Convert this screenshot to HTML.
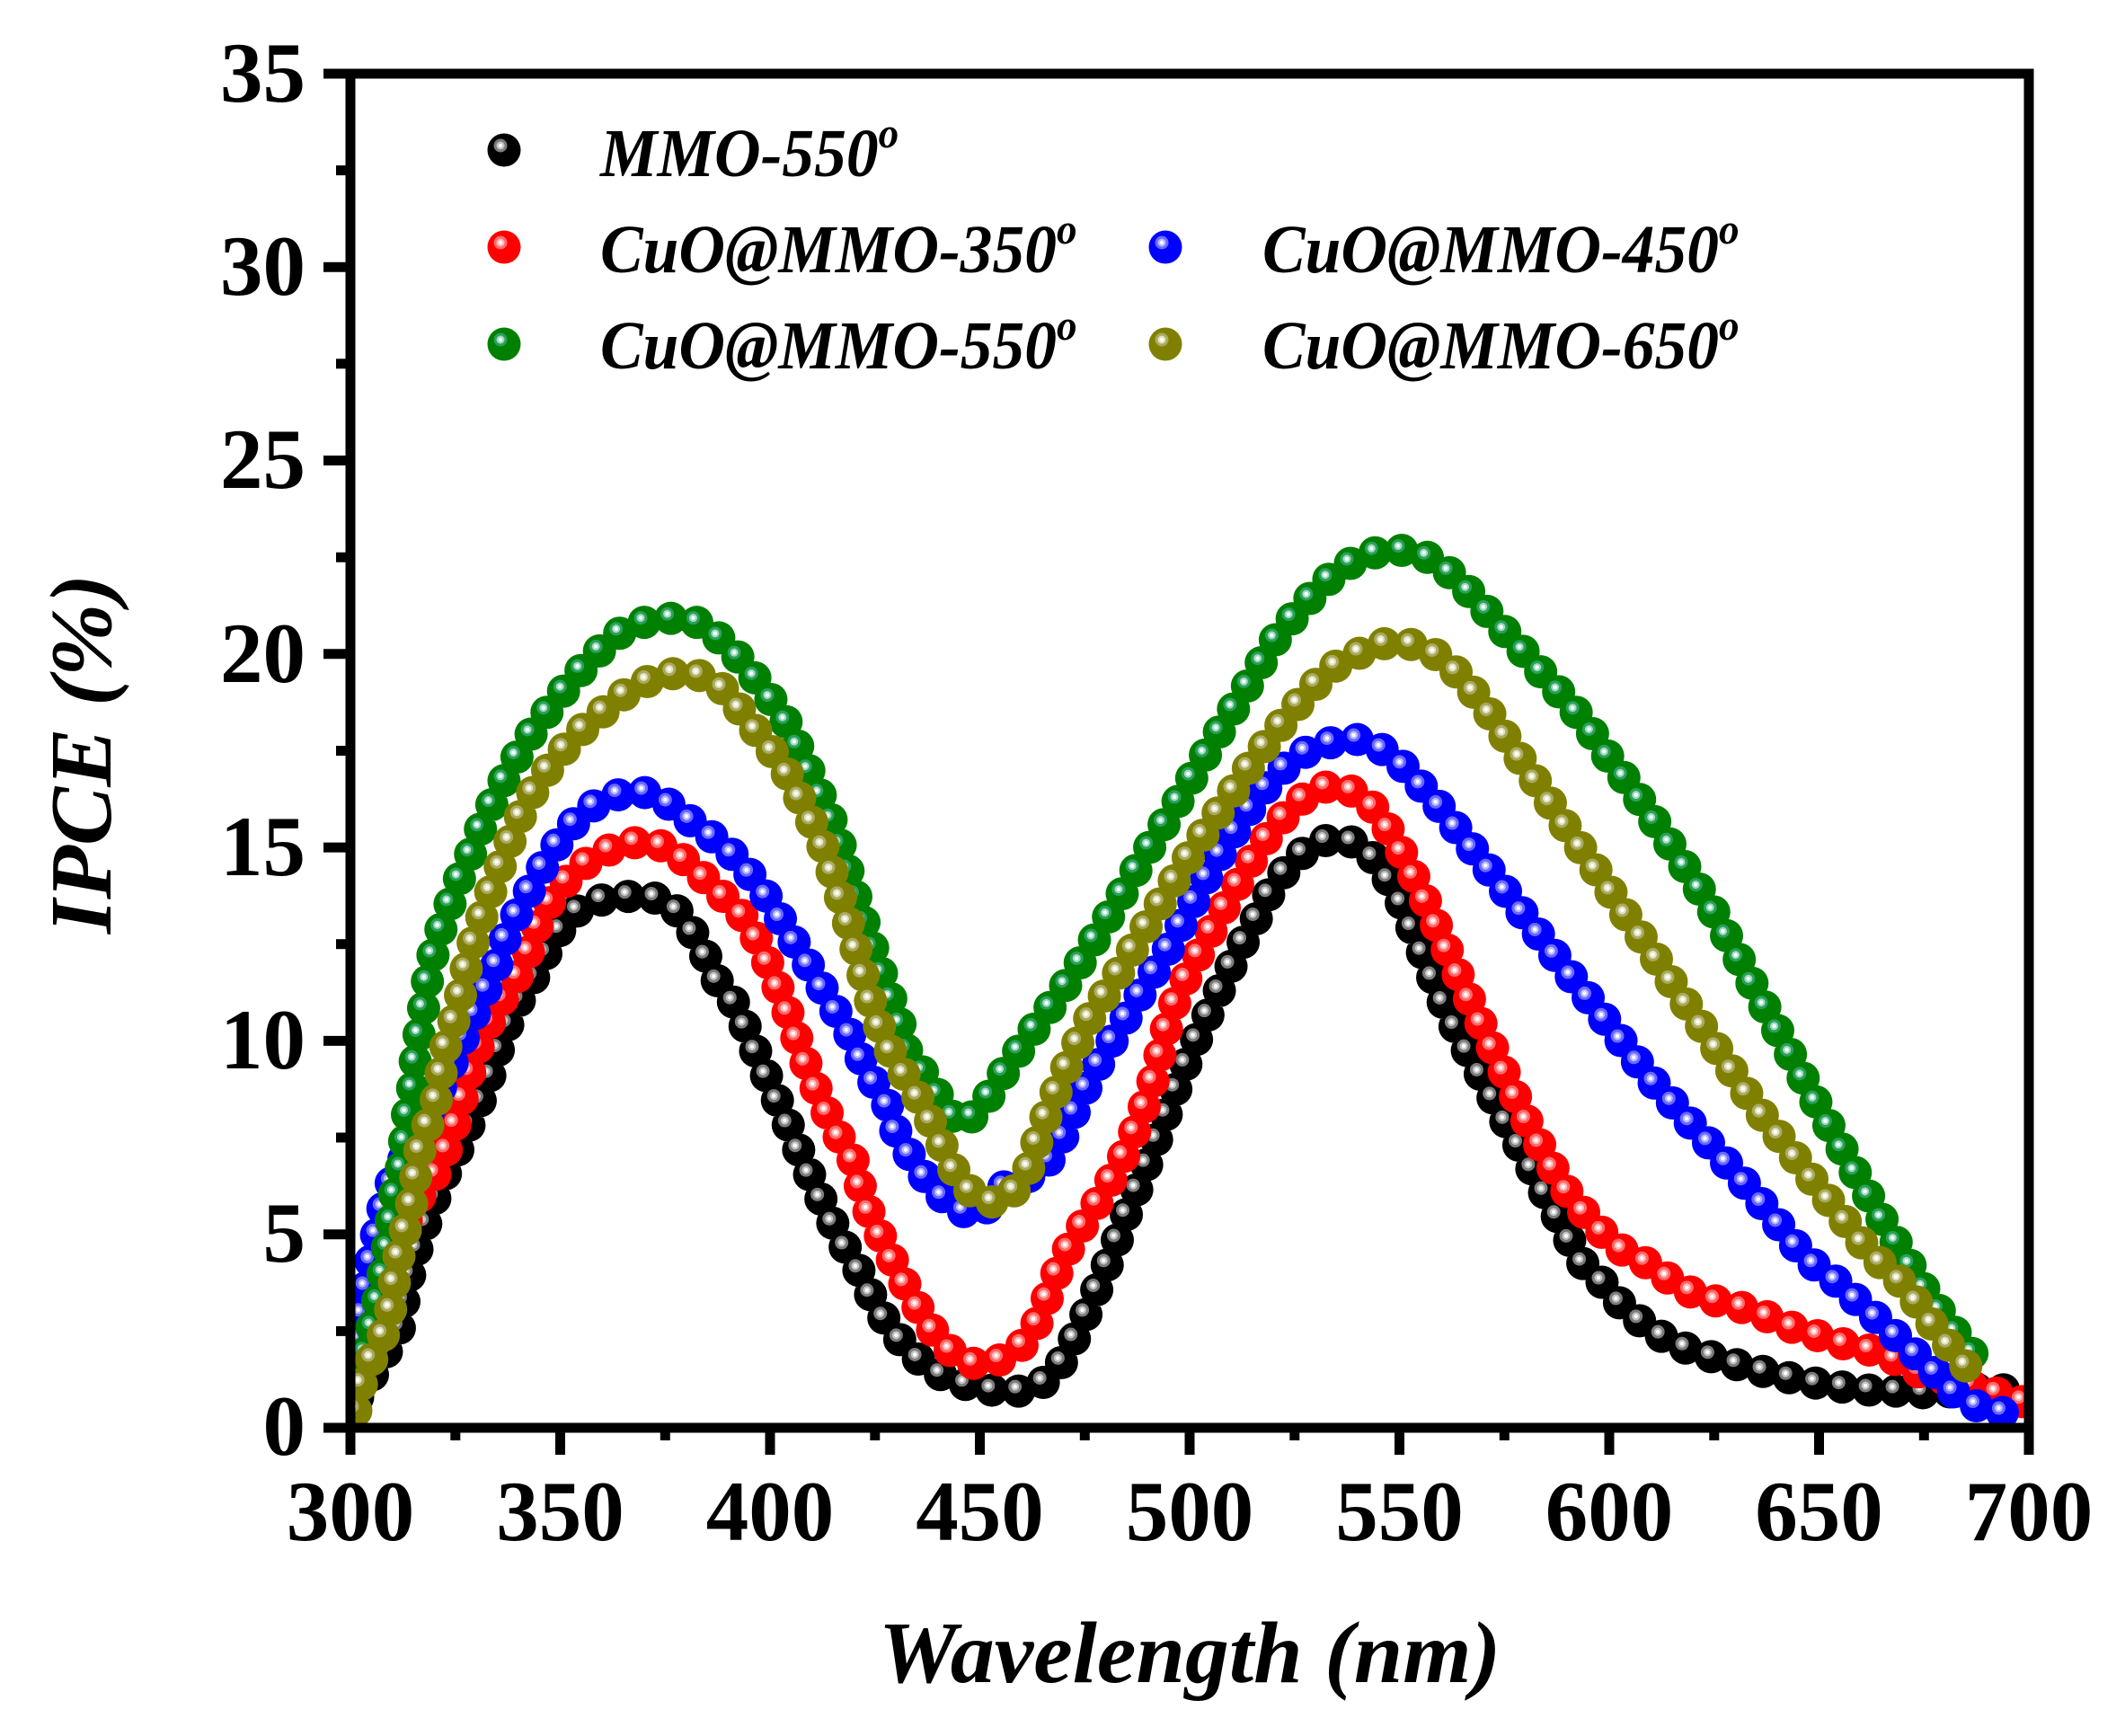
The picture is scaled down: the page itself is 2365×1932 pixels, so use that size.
<!DOCTYPE html>
<html><head><meta charset="utf-8"><style>html,body{margin:0;padding:0;background:#fff}svg{display:block}</style></head>
<body>
<svg xmlns="http://www.w3.org/2000/svg" width="2365" height="1932" viewBox="0 0 2365 1932">
<defs>
<clipPath id="cp"><rect x="390" y="82" width="1868" height="1507"/></clipPath>
<path id="pk" d="M398,1555 L423,1517 445,1477 452,1433 465,1387 477,1353 490,1317 508,1283 523,1250 540,1213 550,1182 562,1147 577,1115 597,1083 613,1050 635,1018 662,1003 689,998 717,997 745,1003 767,1031 784,1061 799,1093 820,1120 838,1163 857,1206 876,1249 894,1292 913,1333 936,1380 959,1419 974,1452 995,1484 1020,1511 1047,1530 1075,1541 1103,1547 1130,1549 1157,1543 1181,1517 1199,1484 1214,1451 1228,1418 1241,1387 1253,1353 1266,1322 1279,1289 1292,1256 1304,1224 1317,1191 1332,1156 1347,1124 1361,1094 1380,1055 1399,1021 1417,986 1441,956 1464,939 1487,932 1511,939 1534,960 1557,999 1581,1055 1604,1111 1627,1158 1651,1202 1674,1245 1698,1288 1721,1331 1744,1374 1757,1402 1777,1420 1805,1453 1833,1477 1860,1494 1888,1505 1915,1513 1943,1522 1970,1528 1998,1535 2025,1540 2053,1544 2080,1547 2108,1548 2141,1550 2170,1549 2200,1546 2228,1546 2252,1556"/>
<path id="pr" d="M393,1525 L400,1478 407,1440 422,1412 437,1385 452,1358 468,1330 487,1303 502,1267 513,1227 523,1193 533,1163 547,1133 562,1107 575,1088 587,1063 597,1033 613,1002 637,972 664,952 692,940 719,936 747,945 775,969 803,996 827,1020 843,1046 857,1077 876,1124 894,1176 913,1223 932,1262 950,1292 958,1322 968,1351 983,1382 998,1412 1015,1444 1035,1477 1060,1506 1087,1519 1115,1513 1142,1494 1159,1464 1171,1429 1185,1397 1203,1367 1223,1336 1242,1304 1257,1274 1269,1244 1281,1211 1290,1178 1299,1142 1310,1109 1324,1081 1347,1038 1371,995 1394,956 1417,922 1441,896 1464,878 1487,874 1511,883 1534,904 1557,943 1581,990 1604,1042 1627,1094 1651,1145 1674,1193 1698,1245 1721,1288 1744,1326 1768,1356 1791,1380 1814,1398 1838,1408 1863,1428 1891,1443 1918,1450 1946,1457 1973,1468 2001,1480 2028,1488 2056,1497 2083,1503 2109,1513 2136,1527 2165,1535 2200,1543 2230,1553 2251,1560"/>
<path id="pb" d="M392,1552 L396,1505 402,1467 408,1428 415,1392 423,1357 432,1323 455,1280 478,1235 500,1190 518,1150 535,1113 550,1083 561,1048 577,1014 595,981 613,949 638,917 664,894 692,883 720,882 748,897 775,919 803,939 827,963 857,1003 880,1042 904,1081 927,1120 950,1158 964,1192 986,1224 996,1257 1015,1290 1038,1322 1065,1347 1092,1352 1117,1321 1140,1312 1162,1300 1181,1269 1196,1237 1211,1206 1229,1173 1249,1140 1269,1107 1301,1055 1324,1012 1347,969 1371,930 1394,896 1417,866 1441,844 1464,831 1487,825 1511,823 1534,831 1557,848 1581,874 1604,900 1627,930 1651,960 1674,990 1698,1021 1721,1051 1744,1081 1768,1111 1791,1141 1814,1171 1838,1202 1861,1227 1884,1253 1908,1279 1931,1305 1954,1331 1978,1361 2011,1402 2039,1422 2066,1447 2094,1472 2122,1498 2149,1523 2177,1552 2204,1567 2228,1572 2251,1575"/>
<path id="pg" d="M392,1532 L408,1503 418,1460 426,1420 433,1378 439,1330 448,1295 453,1243 460,1207 463,1170 470,1132 477,1083 485,1050 497,1017 509,983 522,955 535,922 550,890 567,857 586,824 607,795 632,763 659,732 687,706 715,693 742,688 770,689 797,707 825,735 843,758 862,784 876,805 890,835 904,866 922,904 936,943 950,990 964,1034 983,1089 1001,1137 1009,1169 1037,1207 1054,1237 1072,1253 1095,1229 1115,1197 1137,1165 1159,1134 1180,1106 1207,1064 1231,1025 1254,986 1277,947 1301,909 1324,870 1347,831 1371,792 1394,754 1417,715 1441,685 1464,659 1487,637 1511,622 1534,614 1557,612 1581,616 1604,629 1627,650 1651,676 1674,702 1698,728 1721,755 1744,780 1768,810 1791,844 1814,874 1838,909 1861,943 1884,978 1908,1016 1931,1059 1954,1102 1978,1146 2001,1189 2024,1232 2048,1275 2071,1316 2094,1356 2118,1395 2141,1434 2165,1468 2188,1499 2211,1524"/>
<path id="po" d="M396,1570 L403,1537 415,1510 425,1490 433,1470 438,1433 444,1398 452,1365 460,1332 464,1300 470,1265 482,1240 488,1213 493,1182 499,1150 508,1130 515,1095 523,1060 533,1030 548,987 563,948 577,913 598,872 625,837 653,807 680,785 702,767 730,754 757,748 785,753 812,772 830,800 853,827 876,861 894,896 913,934 927,973 941,1016 955,1064 966,1106 979,1143 996,1181 1012,1204 1031,1238 1048,1274 1068,1315 1095,1339 1122,1335 1144,1303 1155,1268 1167,1235 1181,1202 1196,1168 1213,1133 1232,1104 1254,1068 1277,1029 1301,990 1324,952 1347,917 1371,883 1394,848 1417,818 1441,788 1464,762 1487,741 1511,728 1534,717 1557,715 1581,719 1604,732 1627,754 1651,784 1674,818 1698,853 1721,887 1744,922 1768,956 1791,990 1814,1025 1838,1059 1861,1094 1884,1128 1908,1163 1931,1197 1954,1232 1978,1262 2001,1292 2024,1322 2048,1352 2071,1382 2094,1407 2122,1433 2145,1467 2170,1499 2191,1524"/>
</defs>

<g clip-path="url(#cp)" fill="none" stroke-linecap="round" stroke-dasharray="0 30">
  <use href="#pk" stroke="#000000" stroke-width="37"/>
  <g transform="translate(-4,-5)">
    <use href="#pk" stroke="#7c7c7c" stroke-width="15"/>
    <use href="#pk" stroke="#c4c4c4" stroke-width="9"/>
    <use href="#pk" stroke="#ffffff" stroke-width="4.5"/>
  </g>
  <use href="#pr" stroke="#ff0000" stroke-width="37"/>
  <g transform="translate(-4,-5)">
    <use href="#pr" stroke="#ff6a6a" stroke-width="15"/>
    <use href="#pr" stroke="#ffb8b8" stroke-width="9"/>
    <use href="#pr" stroke="#ffffff" stroke-width="4.5"/>
  </g>
  <use href="#pb" stroke="#0000ff" stroke-width="37"/>
  <g transform="translate(-4,-5)">
    <use href="#pb" stroke="#6a6aff" stroke-width="15"/>
    <use href="#pb" stroke="#b8b8ff" stroke-width="9"/>
    <use href="#pb" stroke="#ffffff" stroke-width="4.5"/>
  </g>
  <use href="#pg" stroke="#008000" stroke-width="37"/>
  <g transform="translate(-4,-5)">
    <use href="#pg" stroke="#2aa060" stroke-width="15"/>
    <use href="#pg" stroke="#a2dcbc" stroke-width="9"/>
    <use href="#pg" stroke="#ffffff" stroke-width="4.5"/>
  </g>
  <use href="#po" stroke="#808000" stroke-width="37"/>
  <g transform="translate(-4,-5)">
    <use href="#po" stroke="#aaaa66" stroke-width="15"/>
    <use href="#po" stroke="#e2e2bc" stroke-width="9"/>
    <use href="#po" stroke="#ffffff" stroke-width="4.5"/>
  </g>
</g>

<!-- frame -->
<rect x="390" y="82" width="1868" height="1507" fill="none" stroke="#000" stroke-width="11"/>

<!-- y ticks -->
<g stroke="#000" stroke-width="11">
  <line x1="360" y1="1589" x2="390" y2="1589"/>
  <line x1="360" y1="1373.7" x2="390" y2="1373.7"/>
  <line x1="360" y1="1158.4" x2="390" y2="1158.4"/>
  <line x1="360" y1="943.1" x2="390" y2="943.1"/>
  <line x1="360" y1="727.8" x2="390" y2="727.8"/>
  <line x1="360" y1="512.5" x2="390" y2="512.5"/>
  <line x1="360" y1="297.2" x2="390" y2="297.2"/>
  <line x1="360" y1="82" x2="390" y2="82"/>
  <line x1="374" y1="1481.4" x2="390" y2="1481.4"/>
  <line x1="374" y1="1266" x2="390" y2="1266"/>
  <line x1="374" y1="1050.7" x2="390" y2="1050.7"/>
  <line x1="374" y1="835.5" x2="390" y2="835.5"/>
  <line x1="374" y1="620.2" x2="390" y2="620.2"/>
  <line x1="374" y1="404.8" x2="390" y2="404.8"/>
  <line x1="374" y1="189.6" x2="390" y2="189.6"/>
</g>
<!-- x ticks -->
<g stroke="#000" stroke-width="11">
  <line x1="390" y1="1589" x2="390" y2="1619"/>
  <line x1="623.5" y1="1589" x2="623.5" y2="1619"/>
  <line x1="857" y1="1589" x2="857" y2="1619"/>
  <line x1="1090.5" y1="1589" x2="1090.5" y2="1619"/>
  <line x1="1324" y1="1589" x2="1324" y2="1619"/>
  <line x1="1557.5" y1="1589" x2="1557.5" y2="1619"/>
  <line x1="1791" y1="1589" x2="1791" y2="1619"/>
  <line x1="2024.5" y1="1589" x2="2024.5" y2="1619"/>
  <line x1="2258" y1="1589" x2="2258" y2="1619"/>
  <line x1="506.8" y1="1589" x2="506.8" y2="1603"/>
  <line x1="740.3" y1="1589" x2="740.3" y2="1603"/>
  <line x1="973.8" y1="1589" x2="973.8" y2="1603"/>
  <line x1="1207.3" y1="1589" x2="1207.3" y2="1603"/>
  <line x1="1440.8" y1="1589" x2="1440.8" y2="1603"/>
  <line x1="1674.3" y1="1589" x2="1674.3" y2="1603"/>
  <line x1="1907.8" y1="1589" x2="1907.8" y2="1603"/>
  <line x1="2141.3" y1="1589" x2="2141.3" y2="1603"/>
</g>

<!-- tick labels -->
<g font-family="'Liberation Serif', 'Times New Roman', serif" font-weight="bold" font-size="95" fill="#000">
  <g text-anchor="end">
    <text x="340" y="1619">0</text>
    <text x="340" y="1404">5</text>
    <text x="340" y="1189">10</text>
    <text x="340" y="974">15</text>
    <text x="340" y="759">20</text>
    <text x="340" y="543">25</text>
    <text x="340" y="328">30</text>
    <text x="340" y="113">35</text>
  </g>
  <g text-anchor="middle">
    <text x="390" y="1714">300</text>
    <text x="623.5" y="1714">350</text>
    <text x="857" y="1714">400</text>
    <text x="1090.5" y="1714">450</text>
    <text x="1324" y="1714">500</text>
    <text x="1557.5" y="1714">550</text>
    <text x="1791" y="1714">600</text>
    <text x="2024.5" y="1714">650</text>
    <text x="2258" y="1714">700</text>
  </g>
</g>

<!-- axis titles -->
<g font-family="'Liberation Serif', 'Times New Roman', serif" font-weight="bold" font-style="italic" font-size="98" fill="#000" text-anchor="middle">
  <text x="1324" y="1872">Wavelength (nm)</text>
  <text transform="translate(123,839) rotate(-90)">IPCE (%)</text>
</g>

<!-- legend markers -->
<g>
  <circle cx="561" cy="167" r="18.5" fill="#000"/>
  <circle cx="557" cy="162" r="7.5" fill="#7c7c7c"/>
  <circle cx="557" cy="162" r="4.5" fill="#c4c4c4"/>
  <circle cx="557" cy="162" r="2.2" fill="#fff"/>

  <circle cx="561" cy="275" r="18.5" fill="#ff0000"/>
  <circle cx="557" cy="270" r="7.5" fill="#ff6a6a"/>
  <circle cx="557" cy="270" r="4.5" fill="#ffb8b8"/>
  <circle cx="557" cy="270" r="2.2" fill="#fff"/>

  <circle cx="561" cy="383" r="18.5" fill="#008000"/>
  <circle cx="557" cy="378" r="7.5" fill="#2aa060"/>
  <circle cx="557" cy="378" r="4.5" fill="#a2dcbc"/>
  <circle cx="557" cy="378" r="2.2" fill="#fff"/>

  <circle cx="1297" cy="275" r="18.5" fill="#0000ff"/>
  <circle cx="1293" cy="270" r="7.5" fill="#6a6aff"/>
  <circle cx="1293" cy="270" r="4.5" fill="#b8b8ff"/>
  <circle cx="1293" cy="270" r="2.2" fill="#fff"/>

  <circle cx="1297" cy="383" r="18.5" fill="#808000"/>
  <circle cx="1293" cy="378" r="7.5" fill="#aaaa66"/>
  <circle cx="1293" cy="378" r="4.5" fill="#e2e2bc"/>
  <circle cx="1293" cy="378" r="2.2" fill="#fff"/>
</g>

<!-- legend text -->
<g font-family="'Liberation Serif', 'Times New Roman', serif" font-weight="bold" font-style="italic" font-size="76" fill="#000">
  <g transform="translate(668,0) scale(0.94,1)">
    <text x="0" y="196">MMO-550<tspan font-size="48" dy="-32">o</tspan></text>
    <text x="0" y="303">CuO@MMO-350<tspan font-size="48" dy="-32">o</tspan></text>
    <text x="0" y="410">CuO@MMO-550<tspan font-size="48" dy="-32">o</tspan></text>
  </g>
  <g transform="translate(1405,0) scale(0.94,1)">
    <text x="0" y="303">CuO@MMO-450<tspan font-size="48" dy="-32">o</tspan></text>
    <text x="0" y="410">CuO@MMO-650<tspan font-size="48" dy="-32">o</tspan></text>
  </g>
</g>
</svg>
</body></html>
